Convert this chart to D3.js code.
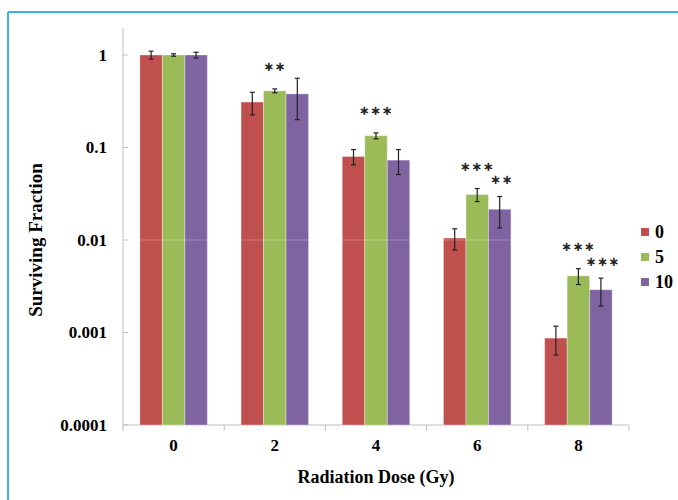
<!DOCTYPE html>
<html>
<head>
<meta charset="utf-8">
<script src="https://cdn.jsdelivr.net/npm/d3@7"></script>
<style>
  body { margin: 0; background: #fff; }
  text { font-family: "Liberation Serif", "Times New Roman", serif; font-weight: bold; }
</style>
</head>
<body>
<div class="chart"></div>
<script>
const doses = ["0", "2", "4", "6", "8"];
const seriesKeys = ["0", "5", "10"];
const colors = ["#C0504D", "#9BBB59", "#8064A2"];
// surviving fraction per series, one value per dose
const means = [
  [1.0, 0.31, 0.080, 0.0105, 0.00087],
  [1.0, 0.41, 0.134, 0.031, 0.0041],
  [1.0, 0.38, 0.073, 0.0215, 0.0029]
];
const errs = [
  [0.1, 0.085, 0.015, 0.0027, 0.0003],
  [0.03, 0.02, 0.01, 0.005, 0.0008],
  [0.07, 0.18, 0.022, 0.008, 0.00097]
];
// significance marks: [dose index, series index, label]
const stars = [
  [1, 1, "**"],
  [2, 1, "***"],
  [3, 1, "***"], [3, 2, "**"],
  [4, 1, "***"], [4, 2, "***"]
];
const yTicks = [1, 0.1, 0.01, 0.001, 0.0001];

const W = 678, H = 500;
const svg = d3.select(".chart").append("svg")
    .attr("width", W).attr("height", H);

// frame lines (top and left)
svg.append("line").attr("x1", 8).attr("x2", W).attr("y1", 12).attr("y2", 12)
    .attr("stroke", "#3CB4E0").attr("stroke-width", 2);
svg.append("line").attr("x1", 8).attr("x2", 8).attr("y1", 12).attr("y2", H)
    .attr("stroke", "#3CB4E0").attr("stroke-width", 2);

const left = 123, right = 629, bottom = 425;

const x = d3.scaleBand().domain(doses).range([left, right]).paddingInner(0.333).paddingOuter(0.1665);
const xs = d3.scaleBand().domain(seriesKeys).range([0, x.bandwidth()]);
const y = d3.scaleLog().domain([0.0001, 1]).range([bottom, 55]);

// axes
svg.append("line").attr("x1", left).attr("x2", left).attr("y1", 28).attr("y2", bottom)
    .attr("stroke", "#BFBFBF");
svg.selectAll(".ytick").data(yTicks).join("line")
    .attr("x1", left).attr("x2", left + 5)
    .attr("y1", d => y(d)).attr("y2", d => y(d))
    .attr("stroke", "#BFBFBF");
svg.selectAll(".ylbl").data(yTicks).join("text")
    .attr("x", 107).attr("y", d => y(d)).attr("dy", "0.35em")
    .attr("text-anchor", "end").attr("font-size", 17)
    .text(d => d >= 0.001 ? String(d) : "0.0001");

svg.append("line").attr("x1", left).attr("x2", right).attr("y1", bottom).attr("y2", bottom)
    .attr("stroke", "#BFBFBF");
const xTickPos = doses.map(d => x(d) - x.step() * x.paddingInner() / 2).concat([right]);
svg.selectAll(".xtick").data(xTickPos).join("line")
    .attr("x1", d => d).attr("x2", d => d)
    .attr("y1", bottom).attr("y2", bottom + 6)
    .attr("stroke", "#BFBFBF");
svg.selectAll(".xlbl").data(doses).join("text")
    .attr("x", d => x(d) + x.bandwidth() / 2).attr("y", 451)
    .attr("text-anchor", "middle").attr("font-size", 17)
    .text(d => d);

// bars
const bars = [];
seriesKeys.forEach((k, si) => doses.forEach((d, di) => {
  bars.push({ dose: d, key: k, si: si, v: means[si][di], e: errs[si][di] });
}));
svg.selectAll(".bar").data(bars).join("rect")
    .attr("x", d => x(d.dose) + xs(d.key))
    .attr("width", xs.bandwidth())
    .attr("y", d => y(d.v))
    .attr("height", d => bottom - y(d.v))
    .attr("fill", d => colors[d.si])
    .attr("stroke", "rgba(255,255,255,0.35)").attr("stroke-width", 1);

// faint line at 0.01 across the bars
svg.append("line").attr("x1", left).attr("x2", right)
    .attr("y1", y(0.01)).attr("y2", y(0.01))
    .attr("stroke", "#fff").attr("stroke-opacity", 0.25);

// error bars
const eb = svg.selectAll(".err").data(bars).join("g")
    .attr("transform", d => `translate(${x(d.dose) + xs(d.key) + xs.bandwidth() / 2},0)`);
eb.append("line").attr("y1", d => y(d.v + d.e)).attr("y2", d => y(d.v - d.e))
    .attr("stroke", "#222").attr("stroke-width", 1.2);
eb.append("line").attr("x1", -2.5).attr("x2", 2.5)
    .attr("y1", d => y(d.v + d.e)).attr("y2", d => y(d.v + d.e))
    .attr("stroke", "#222").attr("stroke-width", 1.2);
eb.append("line").attr("x1", -2.5).attr("x2", 2.5)
    .attr("y1", d => y(d.v - d.e)).attr("y2", d => y(d.v - d.e))
    .attr("stroke", "#222").attr("stroke-width", 1.2);

// significance stars
svg.selectAll(".star").data(stars).join("text")
    .attr("x", d => x(doses[d[0]]) + xs(seriesKeys[d[1]]) + xs.bandwidth() / 2 + (d[1] === 2 ? 2 : 0))
    .attr("y", d => y(means[d[1]][d[0]] + errs[d[1]][d[0]]) - (d[1] === 1 ? 22 : 17))
    .attr("dy", "0.35em")
    .attr("text-anchor", "middle").attr("font-size", 13).attr("font-weight", "normal")
    .attr("letter-spacing", 0.5).attr("fill", "#222")
    .style("font-family", "'DejaVu Sans', sans-serif")
    .text(d => d[2].replace(/\*/g, "\u2217"));

// legend
const lg = svg.selectAll(".lg").data(seriesKeys).join("g")
    .attr("transform", (d, i) => `translate(641,${232 + i * 25})`);
lg.append("rect").attr("x", 0).attr("y", -4).attr("width", 8).attr("height", 8)
    .attr("fill", (d, i) => colors[i]);
lg.append("text").attr("x", 14).attr("dy", "0.35em").attr("font-size", 18).text(d => d);

// axis titles
svg.append("text").attr("transform", "translate(42,240) rotate(-90)")
    .attr("text-anchor", "middle").attr("font-size", 19).text("Surviving Fraction");
svg.append("text").attr("x", (left + right) / 2).attr("y", 483)
    .attr("text-anchor", "middle").attr("font-size", 18).text("Radiation Dose (Gy)");
</script>
</body>
</html>
